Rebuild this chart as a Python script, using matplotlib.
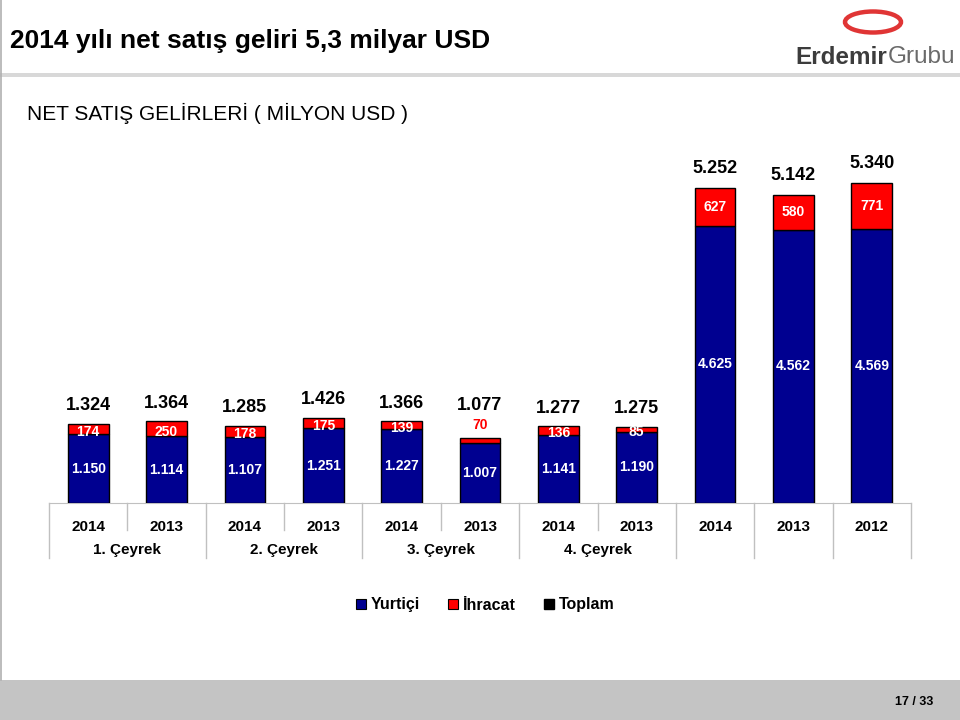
import matplotlib
matplotlib.use("Agg")
import matplotlib.pyplot as plt
from matplotlib.patches import Rectangle, Ellipse
from matplotlib.lines import Line2D
from matplotlib.transforms import blended_transform_factory

plt.rcParams['font.family'] = ['Liberation Sans', 'DejaVu Sans']

# ---------------- data ----------------
years = ['2014', '2013', '2014', '2013', '2014', '2013', '2014', '2013', '2014', '2013', '2012']
quarters = ['1. Çeyrek', '2. Çeyrek', '3. Çeyrek', '4. Çeyrek']
domestic = [1150, 1114, 1107, 1251, 1227, 1007, 1141, 1190, 4625, 4562, 4569]
export = [174, 250, 178, 175, 139, 70, 136, 85, 627, 580, 771]
total = [1324, 1364, 1285, 1426, 1366, 1077, 1277, 1275, 5252, 5142, 5340]
legend_labels = ['Yurtiçi', 'İhracat', 'Toplam']

BLUE = '#000090'
RED = '#ff0000'
GRID = '#c0c0c0'


def fmt(v):
    return f"{v:,}".replace(',', '.')


W, H = 960, 720
fig = plt.figure(figsize=(9.6, 7.2), dpi=100)


def fx(px):
    return px / W


def fy(py):
    return 1 - py / H


# ---------------- slide decoration ----------------
fig.patches.append(Rectangle((0, 0), 1, 40 / H, transform=fig.transFigure,
                             facecolor='#c4c4c4', edgecolor='none', zorder=0))
fig.patches.append(Rectangle((0, fy(77)), 1, 4 / H, transform=fig.transFigure,
                             facecolor='#d8d8d8', edgecolor='none', zorder=0))
fig.lines.append(Line2D([fx(1), fx(1)], [fy(680), 1], transform=fig.transFigure,
                        color='#b0b0b0', lw=1.2))

fig.text(fx(10), fy(41), '2014 yılı net satış geliri 5,3 milyar USD',
         fontsize=19, fontweight='bold', ha='left', va='center')
fig.text(fx(27), fy(113), 'NET SATIŞ GELİRLERİ ( MİLYON USD )',
         fontsize=15, ha='left', va='center')
fig.text(fx(933), fy(702), '17 / 33', fontsize=9, fontweight='bold',
         ha='right', va='center')

# logo
fig.patches.append(Ellipse((fx(873), fy(22)), 56 / W, 21 / H, transform=fig.transFigure,
                           facecolor='none', edgecolor='#e03535', lw=3.2))
fig.text(fx(795), fy(57), 'Erdemir', fontsize=17.5, fontweight='bold',
         color='#3c3c3c', ha='left', va='center')
fig.text(fx(888), fy(57), 'Grubu', fontsize=17.5, color='#6a6a6a',
         ha='left', va='center')

# ---------------- chart ----------------
ax = fig.add_axes([fx(49), fy(503), fx(911) - fx(49), 6000 * 0.05993 / H])
x = list(range(len(years)))
bw = 0.52
ax.bar(x, domestic, width=bw, color=BLUE, edgecolor='black', linewidth=1, zorder=3)
ax.bar(x, export, width=bw, bottom=domestic, color=RED, edgecolor='black',
       linewidth=1, zorder=3)
ax.set_xlim(-0.5, len(years) - 0.5)
ax.set_ylim(0, 6000)
ax.set_yticks([])
for s in ['left', 'right', 'top']:
    ax.spines[s].set_visible(False)
ax.spines['bottom'].set_color(GRID)
ax.set_xticks(x)
ax.set_xticklabels(years, fontsize=11, fontweight='bold')
ax.tick_params(axis='x', length=0, pad=12)

for i in x:
    d, e, t = domestic[i], export[i], total[i]
    big = t > 3000
    # domestic label (center of blue segment)
    ax.annotate(fmt(d), (i, d / 2), ha='center', va='center', color='white',
                fontsize=10, fontweight='bold', zorder=4)
    if e >= 80:
        ax.annotate(fmt(e), (i, d + e / 2), xytext=(0, 0 if big else -2),
                    textcoords='offset points', ha='center', va='center',
                    color='white', fontsize=10, fontweight='bold', zorder=4)
        off = 14 if big else 13
    else:
        ax.annotate(fmt(e), (i, t), xytext=(0, 9.5), textcoords='offset points',
                    ha='center', va='center', color=RED, fontsize=10,
                    fontweight='bold', zorder=4)
        off = 24
    ax.annotate(fmt(t), (i, t), xytext=(0, off), textcoords='offset points',
                ha='center', va='center', color='black', fontsize=13,
                fontweight='bold', zorder=4)

# category table lines below the axis
trans = blended_transform_factory(ax.transData, ax.transAxes)
axh = 6000 * 0.05993
short = -27 / axh
long_ = -55 / axh
for b in range(len(years) + 1):
    xb = b - 0.5
    y1 = short if (b < 8 and b % 2 == 1) else long_
    ax.plot([xb, xb], [0, y1], transform=trans, color=GRID, lw=1, clip_on=False)

for q, name in enumerate(quarters):
    ax.text(2 * q + 0.5, -47 / axh, name, transform=trans,
            ha='center', va='center', fontsize=11, fontweight='bold')

# legend
handles = [Line2D([], [], marker='s', linestyle='none', markersize=7,
                  markerfacecolor=BLUE, markeredgecolor='black', markeredgewidth=0.8),
           Line2D([], [], marker='s', linestyle='none', markersize=7,
                  markerfacecolor=RED, markeredgecolor='black', markeredgewidth=0.8),
           Line2D([], [], marker='s', linestyle='none', markersize=7,
                  markerfacecolor='black', markeredgecolor='black')]
fig.legend(handles, legend_labels, loc='center left',
           bbox_to_anchor=(fx(356), fy(605)), ncol=3, frameon=False,
           borderpad=0, borderaxespad=0, handlelength=0.6, handletextpad=0.3,
           columnspacing=1.8, prop={'size': 11.5, 'weight': 'bold'})

fig.savefig('out.png', dpi=100, facecolor='white')
